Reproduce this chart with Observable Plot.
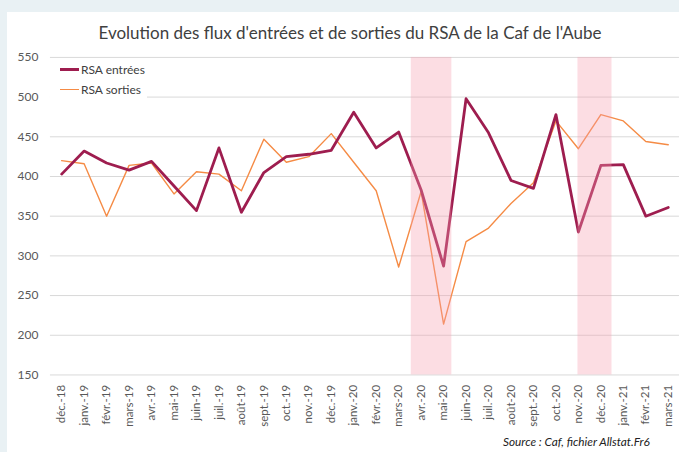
<!DOCTYPE html>
<html><head><meta charset="utf-8">
<script src="https://cdn.jsdelivr.net/npm/d3@7"></script>
<script src="https://cdn.jsdelivr.net/npm/@observablehq/plot@0.6"></script>
<style>
html,body{margin:0;padding:0;overflow:hidden;background:#e9f1f4;width:679px;height:452px;}
#panel{position:absolute;left:7px;top:12px;width:672px;height:440px;background:#fff;}
#chart{position:absolute;left:0;top:0;}
#title{position:absolute;left:0;width:700px;top:22px;text-align:center;font-family:Lato,sans-serif;font-size:17px;color:#404040;white-space:nowrap;}
#legend{position:absolute;left:50px;top:60px;width:97px;height:40px;background:#fff;font-family:Lato,sans-serif;font-size:12px;color:#404040;}
.row{position:absolute;left:10px;height:16px;display:flex;align-items:center;}
.sw{width:19px;margin-right:2px;}
#source{position:absolute;left:503px;top:434px;font-family:Lato,sans-serif;font-style:italic;font-size:11.8px;color:#222;white-space:nowrap;}
</style></head>
<body>
<div id="panel"></div>
<div id="chart"></div>
<div id="title">Evolution des flux d'entrées et de sorties du RSA de la Caf de l'Aube</div>
<div id="legend"></div>
<div id="source">Source : Caf, fichier Allstat.Fr6</div>
<script>
const months = ["déc.-18","janv.-19","févr.-19","mars-19","avr.-19","mai-19","juin-19","juil.-19","août-19","sept.-19","oct.-19","nov.-19","déc.-19","janv.-20","févr.-20","mars-20","avr.-20","mai-20","juin-20","juil.-20","août-20","sept.-20","oct.-20","nov.-20","déc.-20","janv.-21","févr.-21","mars-21"];
const entrees = [403,432,417,408,419,388,357,436,355,405,425,428,433,481,436,456,383,287,498,455,395,385,478,330,414,415,350,361];
const sorties = [420,416,350,414,417,378,406,403,382,447,418,425,454,418,382,286,381,214,318,335,366,392,470,435,478,470,444,440];
const yTicks = [150,200,250,300,350,400,450,500,550];
const confinements = [["2020-03-17","2020-05-11"],["2020-10-30","2020-12-15"]];
const seriesNames = ["RSA entrées","RSA sorties"];
const colors = ["#9e1d4f","#f58b45"];

// fractional month index from dec.-18
function monthIndex(s){
  const [y,m,d] = s.split("-").map(Number);
  const dim = new Date(Date.UTC(y,m,0)).getUTCDate();
  return (y-2018)*12 + (m-12) + (d-1)/dim;
}
const rows = months.map((m,i)=>({i, month:m, entrees:entrees[i], sorties:sorties[i]}));
const periods = confinements.map(([a,b])=>({x1:monthIndex(a), x2:monthIndex(b)}));

const plot = Plot.plot({
  width: 680, height: 452,
  marginLeft: 50, marginRight: 0, marginTop: 57, marginBottom: 77,
  style: {background:"transparent", fontFamily:"Lato, sans-serif", color:"#595959"},
  x: {type:"linear", domain:[-0.5, months.length-0.5]},
  y: {domain:[150,550]},
  marks: [
    Plot.gridY(yTicks, {stroke:"#d9d9d9", strokeOpacity:1, strokeWidth:1}),
    Plot.line(rows, {x:"i", y:"sorties", stroke:colors[1], strokeWidth:1.4}),
    Plot.line(rows, {x:"i", y:"entrees", stroke:colors[0], strokeWidth:2.8}),
    Plot.rect(periods, {x1:"x1", x2:"x2", fill:"#f69eaf", fillOpacity:0.35, insetLeft:1, insetRight:-1}),
    Plot.axisY(yTicks, {tickSize:0, tickPadding:12, fontSize:12, label:null}),
    Plot.axisX(d3.range(months.length), {tickSize:0, tickPadding:10, tickRotate:-90, fontSize:11.5, tickFormat:i=>months[i], label:null})
  ]
});
document.getElementById("chart").appendChild(plot);

const lg = document.getElementById("legend");
seriesNames.forEach((n,k)=>{
  const r = document.createElement("div");
  r.className = "row";
  r.style.top = (k===0 ? 1 : 21) + "px";
  r.innerHTML = `<span class="sw" style="border-top:${k===0?3:1.5}px solid ${colors[k]}"></span><span>${n}</span>`;
  lg.appendChild(r);
});
</script>
</body></html>
